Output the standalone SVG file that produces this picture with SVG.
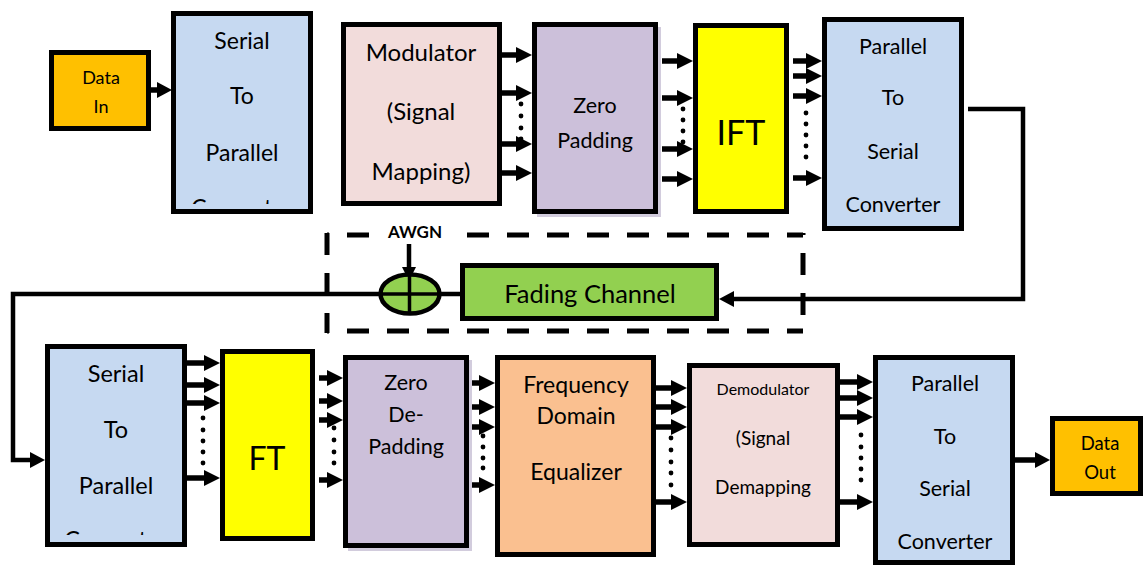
<svg xmlns="http://www.w3.org/2000/svg" width="1143" height="567" viewBox="0 0 1143 567">
<style>
.box{stroke:#000;stroke-width:5}
.t{font-family:Lato,"Liberation Sans",sans-serif;fill:#000;text-anchor:middle}
.w{stroke:#000;stroke-width:5.5;fill:none}
.c{stroke:#000;stroke-width:4.5;fill:none}
.d{stroke:#000;stroke-width:5;fill:none;stroke-dasharray:22 18}
.dot{fill:#000}
.sh{fill:#D2CCDD}
</style>
<defs>
<marker id="ah" markerUnits="userSpaceOnUse" markerWidth="16" markerHeight="16" refX="0" refY="8" orient="auto"><path d="M0,0 L16,8 L0,16 Z" fill="#000"/></marker>
<marker id="ah2" markerUnits="userSpaceOnUse" markerWidth="15" markerHeight="16" refX="0" refY="8" orient="auto"><path d="M0,0 L15,8 L0,16 Z" fill="#000"/></marker>
<marker id="ah3" markerUnits="userSpaceOnUse" markerWidth="14" markerHeight="14" refX="0" refY="7" orient="auto"><path d="M0,0 L14,7 L0,14 Z" fill="#000"/></marker>
<clipPath id="clipA"><rect x="176" y="16" width="132" height="188"/></clipPath>
<clipPath id="clipB"><rect x="50" y="349" width="132" height="186"/></clipPath>
</defs>

<g id="channel-frame">
<line class="d" x1="327" y1="235" x2="803" y2="235" stroke-dashoffset="20"/>
<line class="d" x1="327" y1="331" x2="803" y2="331" stroke-dashoffset="20"/>
<line class="d" x1="327" y1="233" x2="327" y2="333"/>
<line class="d" x1="803" y1="233" x2="803" y2="333" stroke-dashoffset="-20"/>
</g>

<g id="connectors">
<line class="w" x1="151" y1="90" x2="157" y2="90" marker-end="url(#ah2)"/>
<line class="w" x1="502" y1="55" x2="516" y2="55" marker-end="url(#ah)"/>
<line class="w" x1="502" y1="93" x2="516" y2="93" marker-end="url(#ah)"/>
<line class="w" x1="502" y1="144" x2="516" y2="144" marker-end="url(#ah)"/>
<line class="w" x1="502" y1="173" x2="516" y2="173" marker-end="url(#ah)"/>
<line class="w" x1="662" y1="61" x2="677" y2="61" marker-end="url(#ah)"/>
<line class="w" x1="662" y1="98" x2="677" y2="98" marker-end="url(#ah)"/>
<line class="w" x1="662" y1="149" x2="677" y2="149" marker-end="url(#ah)"/>
<line class="w" x1="662" y1="179" x2="677" y2="179" marker-end="url(#ah)"/>
<line class="w" x1="793" y1="61" x2="806" y2="61" marker-end="url(#ah)"/>
<line class="w" x1="793" y1="76" x2="806" y2="76" marker-end="url(#ah)"/>
<line class="w" x1="793" y1="96" x2="806" y2="96" marker-end="url(#ah)"/>
<line class="w" x1="793" y1="178" x2="806" y2="178" marker-end="url(#ah)"/>
<path class="c" d="M968,109 H1023 V299 H734" marker-end="url(#ah2)"/>
<path class="c" d="M460,294 H13 V460 H30" marker-end="url(#ah2)"/>
<line stroke="#000" stroke-width="4.5" x1="409" y1="243" x2="409" y2="267" marker-end="url(#ah3)"/>
<line class="w" x1="187" y1="363" x2="204" y2="363" marker-end="url(#ah)"/>
<line class="w" x1="187" y1="385" x2="204" y2="385" marker-end="url(#ah)"/>
<line class="w" x1="187" y1="403" x2="204" y2="403" marker-end="url(#ah)"/>
<line class="w" x1="187" y1="478" x2="204" y2="478" marker-end="url(#ah)"/>
<line class="w" x1="319" y1="378" x2="327" y2="378" marker-end="url(#ah)"/>
<line class="w" x1="319" y1="401" x2="327" y2="401" marker-end="url(#ah)"/>
<line class="w" x1="319" y1="420" x2="327" y2="420" marker-end="url(#ah)"/>
<line class="w" x1="319" y1="480" x2="327" y2="480" marker-end="url(#ah)"/>
<line class="w" x1="469" y1="383" x2="479" y2="383" marker-end="url(#ah)"/>
<line class="w" x1="469" y1="407" x2="479" y2="407" marker-end="url(#ah)"/>
<line class="w" x1="469" y1="427" x2="479" y2="427" marker-end="url(#ah)"/>
<line class="w" x1="469" y1="485" x2="479" y2="485" marker-end="url(#ah)"/>
<line class="w" x1="656" y1="388" x2="671" y2="388" marker-end="url(#ah)"/>
<line class="w" x1="656" y1="407" x2="671" y2="407" marker-end="url(#ah)"/>
<line class="w" x1="656" y1="427" x2="671" y2="427" marker-end="url(#ah)"/>
<line class="w" x1="656" y1="502" x2="671" y2="502" marker-end="url(#ah)"/>
<line class="w" x1="840" y1="382" x2="857" y2="382" marker-end="url(#ah)"/>
<line class="w" x1="840" y1="398" x2="857" y2="398" marker-end="url(#ah)"/>
<line class="w" x1="840" y1="417" x2="857" y2="417" marker-end="url(#ah)"/>
<line class="w" x1="840" y1="502" x2="857" y2="502" marker-end="url(#ah)"/>
<line class="w" x1="1015" y1="460" x2="1035" y2="460" marker-end="url(#ah2)"/>
<g class="dot">
<circle cx="521" cy="104" r="2.4"/><circle cx="521" cy="116" r="2.4"/><circle cx="521" cy="128" r="2.4"/><circle cx="521" cy="139" r="2.4"/>
<circle cx="683" cy="109" r="2.4"/><circle cx="683" cy="120" r="2.4"/><circle cx="683" cy="131" r="2.4"/><circle cx="683" cy="142" r="2.4"/>
<circle cx="806" cy="113" r="2.4"/><circle cx="806" cy="124" r="2.4"/><circle cx="806" cy="135" r="2.4"/><circle cx="806" cy="146" r="2.4"/><circle cx="806" cy="157" r="2.4"/>
<circle cx="203" cy="418" r="2.4"/><circle cx="203" cy="430" r="2.4"/><circle cx="203" cy="441" r="2.4"/><circle cx="203" cy="452" r="2.4"/><circle cx="203" cy="463" r="2.4"/>
<circle cx="334" cy="428" r="2.4"/><circle cx="334" cy="440" r="2.4"/><circle cx="334" cy="452" r="2.4"/><circle cx="334" cy="463" r="2.4"/>
<circle cx="483" cy="436" r="2.4"/><circle cx="483" cy="447" r="2.4"/><circle cx="483" cy="458" r="2.4"/><circle cx="483" cy="468" r="2.4"/>
<circle cx="671" cy="438" r="2.4"/><circle cx="671" cy="450" r="2.4"/><circle cx="671" cy="462" r="2.4"/><circle cx="671" cy="473" r="2.4"/><circle cx="671" cy="485" r="2.4"/>
<circle cx="861" cy="435" r="2.4"/><circle cx="861" cy="447" r="2.4"/><circle cx="861" cy="458" r="2.4"/><circle cx="861" cy="469" r="2.4"/><circle cx="861" cy="480" r="2.4"/>
</g>
</g>

<g id="awgn-label">
<rect x="382" y="224" width="68" height="20" fill="#fff"/>
<text class="t" x="415" y="238" font-size="17" font-weight="bold">AWGN</text>
</g>

<g id="adder">
<ellipse cx="410" cy="294" rx="29.5" ry="19.5" fill="#92D050" stroke="#000" stroke-width="4.5"/>
<line x1="409.5" y1="275" x2="409.5" y2="313" stroke="#000" stroke-width="3.5"/>
<line x1="381" y1="294" x2="439" y2="294" stroke="#000" stroke-width="3.5"/>
</g>

<g id="data-in">
<rect class="box" x="51.5" y="52.5" width="97" height="76" fill="#FFC000"/>
<text class="t" x="101" y="84" font-size="18">Data</text>
<text class="t" x="101" y="113" font-size="18">In</text>
</g>

<g id="sp-top">
<rect class="box" x="173.5" y="13.5" width="137" height="198" fill="#C6D9F1"/>
<g clip-path="url(#clipA)">
<text class="t" x="242" y="49" font-size="23">Serial</text>
<text class="t" x="242" y="104" font-size="23">To</text>
<text class="t" x="242" y="160.5" font-size="23">Parallel</text>
<text class="t" x="242" y="216" font-size="23">Converter</text>
</g>
</g>

<g id="modulator">
<rect class="box" x="343.5" y="24.5" width="156" height="179" fill="#F2DCDB"/>
<text class="t" x="421" y="60.5" font-size="24">Modulator</text>
<text class="t" x="421" y="120" font-size="24">(Signal</text>
<text class="t" x="421" y="180" font-size="24">Mapping)</text>
</g>

<g id="zero-padding">
<rect class="sh" x="537" y="27" width="124" height="190"/>
<rect class="box" x="534.5" y="24.5" width="121" height="187" fill="#CCC0DA"/>
<text class="t" x="595" y="113" font-size="21.5">Zero</text>
<text class="t" x="595" y="147.5" font-size="21.5">Padding</text>
</g>

<g id="ift">
<rect class="box" x="695.5" y="25.5" width="91" height="186" fill="#FFFF00"/>
<text class="t" x="741" y="145" font-size="34">IFT</text>
</g>

<g id="ps-top">
<rect class="box" x="824.5" y="19.5" width="137" height="209" fill="#C6D9F1"/>
<text class="t" x="893" y="53.5" font-size="21.5">Parallel</text>
<text class="t" x="893" y="105" font-size="21.5">To</text>
<text class="t" x="893" y="158.5" font-size="21.5">Serial</text>
<text class="t" x="893" y="211.5" font-size="21.5">Converter</text>
</g>

<g id="fading-channel">
<rect class="box" x="462.5" y="265.5" width="254" height="53" fill="#92D050"/>
<text class="t" x="590" y="303" font-size="25.5">Fading Channel</text>
</g>

<g id="sp-bottom">
<rect class="box" x="47.5" y="346.5" width="137" height="198" fill="#C6D9F1"/>
<g clip-path="url(#clipB)">
<text class="t" x="116" y="381.5" font-size="23.5">Serial</text>
<text class="t" x="116" y="437.5" font-size="23.5">To</text>
<text class="t" x="116" y="493.5" font-size="23.5">Parallel</text>
<text class="t" x="116" y="548" font-size="23.5">Converter</text>
</g>
</g>

<g id="ft">
<rect class="box" x="222.5" y="351.5" width="90" height="187" fill="#FFFF00"/>
<text class="t" x="267" y="470" font-size="32">FT</text>
</g>

<g id="zero-depadding">
<rect class="sh" x="348" y="360" width="124" height="191"/>
<rect class="box" x="345.5" y="357.5" width="121" height="188" fill="#CCC0DA"/>
<text class="t" x="406" y="389.5" font-size="21.5">Zero</text>
<text class="t" x="406" y="422" font-size="21.5">De-</text>
<text class="t" x="406" y="454" font-size="21.5">Padding</text>
</g>

<g id="equalizer">
<rect class="box" x="497.5" y="357.5" width="156" height="197" fill="#FAC090"/>
<text class="t" x="576" y="392.5" font-size="23">Frequency</text>
<text class="t" x="576" y="424" font-size="23">Domain</text>
<text class="t" x="576" y="480" font-size="23">Equalizer</text>
</g>

<g id="demodulator">
<rect class="box" x="689.5" y="365.5" width="148" height="179" fill="#F2DCDB"/>
<text class="t" x="763" y="395" font-size="16">Demodulator</text>
<text class="t" x="763" y="445" font-size="19">(Signal</text>
<text class="t" x="763" y="494" font-size="19">Demapping</text>
</g>

<g id="ps-bottom">
<rect class="box" x="875.5" y="357.5" width="137" height="205" fill="#C6D9F1"/>
<text class="t" x="945" y="391" font-size="21.5">Parallel</text>
<text class="t" x="945" y="443.5" font-size="21.5">To</text>
<text class="t" x="945" y="496" font-size="21.5">Serial</text>
<text class="t" x="945" y="548.5" font-size="21.5">Converter</text>
</g>

<g id="data-out">
<rect class="box" x="1052.5" y="418.5" width="88" height="75" fill="#FFC000"/>
<text class="t" x="1100" y="450" font-size="18.5">Data</text>
<text class="t" x="1100" y="478.5" font-size="18.5">Out</text>
</g>
</svg>
